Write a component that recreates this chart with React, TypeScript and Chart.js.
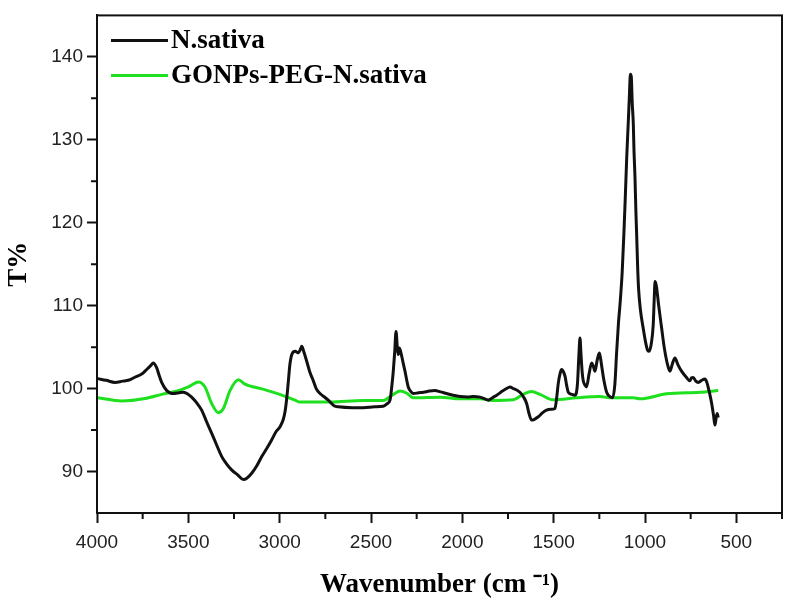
import React, { useEffect, useRef } from 'react';
import { Chart, registerables } from 'chart.js';

Chart.register(...registerables);

const seriesLabels = ['N.sativa', 'GONPs-PEG-N.sativa'];
const seriesColors = ['#111111', '#1ee01e'];

const nsWave = [
  3996, 3950, 3901, 3860, 3829, 3790, 3755, 3728, 3705, 3692, 3673, 3660, 3646, 3618, 3582, 3550, 3528, 3500,
  3482, 3455, 3427, 3400, 3372, 3345, 3317, 3290, 3263, 3230, 3199, 3180, 3153, 3125, 3098, 3070, 3044, 3020,
  2998, 2980, 2970, 2961, 2952, 2944, 2932, 2915, 2898, 2885, 2879, 2870, 2852, 2835, 2816, 2800, 2779, 2750,
  2734, 2700, 2679, 2600, 2542, 2480, 2433, 2410, 2396, 2385, 2378, 2370, 2363, 2356, 2351, 2345, 2338, 2325,
  2314, 2296, 2280, 2268, 2240, 2213, 2180, 2150, 2120, 2086, 2050, 2013, 1970, 1940, 1903, 1880, 1858, 1835,
  1812, 1780, 1750, 1739, 1720, 1700, 1685, 1665, 1648, 1635, 1621, 1605, 1584, 1560, 1539, 1515, 1493, 1483,
  1475, 1465, 1457, 1448, 1438, 1428, 1420, 1400, 1384, 1370, 1362, 1356, 1350, 1344, 1338, 1328, 1320, 1306,
  1292, 1283, 1274, 1262, 1250, 1243, 1237, 1225, 1210, 1190, 1177, 1165, 1155, 1145, 1137, 1125, 1115, 1108,
  1100, 1092, 1086, 1080, 1075, 1070, 1064, 1060, 1055, 1050, 1046, 1040, 1035, 1025, 1010, 995, 985, 977,
  965, 955, 950, 945, 940, 936, 925, 909, 895, 881, 870, 863, 850, 836, 820, 800, 775, 754, 745, 736, 722,
  708, 690, 672, 662, 654, 645, 635, 625, 617, 611, 605, 599,
];
const nsT = [
  101.2, 101.0, 100.75, 100.9, 101.0, 101.4, 101.75, 102.3, 102.8, 103.1, 102.5, 101.6, 100.75, 99.76, 99.4, 99.5, 99.56, 99.3,
  98.97, 98.3, 97.4, 96.0, 94.6, 93.2, 91.8, 90.9, 90.2, 89.6, 89.05, 89.2, 89.8, 90.7, 91.8, 92.8, 93.8, 94.8,
  95.4, 96.3, 97.3, 98.9, 101.0, 102.9, 104.2, 104.5, 104.3, 104.8, 105.1, 104.6, 103.3, 102.0, 100.95, 100.0, 99.4, 98.9,
  98.6, 97.9, 97.8, 97.7, 97.7, 97.8, 97.86, 98.2, 98.6, 100.5, 102.1, 104.5, 106.9, 105.0, 104.1, 104.9, 104.5, 103.2,
  102.1, 100.2, 99.6, 99.4, 99.5, 99.56, 99.7, 99.76, 99.6, 99.4, 99.2, 99.05, 99.0, 99.05, 98.97, 98.8, 98.6, 98.9,
  99.2, 99.7, 100.1, 100.2, 100.0, 99.8, 99.56, 99.0, 98.2, 97.0, 96.2, 96.3, 96.6, 97.1, 97.4, 97.5, 97.6, 99.0,
  100.6, 101.8, 102.3, 102.1, 101.5, 100.3, 99.56, 99.3, 99.2, 100.5, 104.0, 106.1, 104.0, 102.0, 100.95, 100.4, 100.2, 101.8,
  103.1, 102.7, 102.1, 103.4, 104.3, 103.6, 102.7, 101.0, 99.56, 99.0, 98.9, 100.5, 104.5, 108.0, 110.1, 114.0, 119.0, 123.0,
  127.9, 131.9, 135.0, 137.9, 137.6, 134.5, 131.9, 128.5, 125.6, 121.5, 118.8, 114.5, 112.0, 109.5, 107.3, 105.4, 104.6, 104.5,
  105.5, 107.7, 110.5, 112.9, 112.6, 112.1, 110.0, 107.3, 105.0, 103.3, 102.4, 102.1, 103.0, 103.7, 102.9, 102.1, 101.4, 100.95, 101.3, 101.35, 100.9,
  100.75, 101.0, 101.15, 100.8, 100.15, 99.3, 98.2, 96.8, 95.6, 96.4, 97.0, 96.5,
];

const gnWave = [
  3996, 3865, 3737, 3646, 3555, 3500, 3445, 3409, 3372, 3336, 3308, 3272, 3226, 3190, 3098, 3008, 2916, 2889,
  2725, 2542, 2433, 2378, 2341, 2304, 2268, 2122, 2013, 1903, 1831, 1721, 1667, 1621, 1575, 1502, 1374, 1247,
  1192, 1064, 1028, 881, 700, 599,
];
const gnT = [
  98.9, 98.5, 98.8, 99.3, 99.76, 100.2, 100.8, 100.2, 98.2, 97.1, 97.6, 99.76, 101.07, 100.55, 99.96, 99.37, 98.6, 98.37,
  98.37, 98.57, 98.57, 99.3, 99.7, 99.44, 98.9, 98.97, 98.77, 98.77, 98.57, 98.65, 99.3, 99.64, 99.3, 98.65, 98.9, 99.05,
  98.9, 98.9, 98.77, 99.37, 99.56, 99.76,
];

const xTicks = [4000, 3500, 3000, 2500, 2000, 1500, 1000, 500];
const xMinorTicks = [3750, 3250, 2750, 2250, 1750, 1250, 750, 250];
const yTicks = [90, 100, 110, 120, 130, 140];
const yMinorTicks = [95, 105, 115, 125, 135];
const xTitle = 'Wavenumber (cm \u207B\u00B9)';
const yTitle = 'T%';

const frameColor = '#111111';
const serifBold = { family: '"Liberation Serif", "Times New Roman", serif', size: 27, weight: 'bold' as const };
const tickFont = { family: '"Liberation Sans", Arial, sans-serif', size: 19 };

const framePlugin = {
  id: 'frameAndMinor',
  afterDraw(chart: any) {
    const { ctx, chartArea, scales } = chart;
    ctx.save();
    ctx.strokeStyle = frameColor;
    ctx.lineWidth = 2;
    ctx.strokeRect(chartArea.left, chartArea.top, chartArea.right - chartArea.left, chartArea.bottom - chartArea.top);
    ctx.beginPath();
    xMinorTicks.forEach((v) => {
      const px = scales.x.getPixelForValue(v);
      ctx.moveTo(px, chartArea.bottom);
      ctx.lineTo(px, chartArea.bottom + 6);
    });
    yMinorTicks.forEach((v) => {
      const py = scales.y.getPixelForValue(v);
      ctx.moveTo(chartArea.left, py);
      ctx.lineTo(chartArea.left - 6, py);
    });
    ctx.stroke();
    ctx.restore();
  },
};

const legendPlugin = {
  id: 'insideLegend',
  afterDatasetsDraw(chart: any) {
    const { ctx, chartArea } = chart;
    ctx.save();
    chart.data.datasets.forEach((ds: any, i: number) => {
      const y = chartArea.top + 25 + i * 35;
      ctx.strokeStyle = ds.borderColor;
      ctx.lineWidth = 3;
      ctx.beginPath();
      ctx.moveTo(chartArea.left + 14, y);
      ctx.lineTo(chartArea.left + 71, y);
      ctx.stroke();
      ctx.fillStyle = '#000';
      ctx.font = `bold ${serifBold.size}px ${serifBold.family}`;
      ctx.textBaseline = 'middle';
      ctx.textAlign = 'left';
      ctx.fillText(ds.label, chartArea.left + 74, y + 1);
    });
    ctx.restore();
  },
};

export default function App() {
  const canvasRef = useRef<HTMLCanvasElement | null>(null);

  useEffect(() => {
    if (!canvasRef.current) return;
    const chart = new Chart(canvasRef.current, {
      type: 'line',
      data: {
        datasets: [
          {
            label: seriesLabels[0],
            data: nsWave.map((w, i) => ({ x: w, y: nsT[i] })),
            borderColor: seriesColors[0],
            backgroundColor: seriesColors[0],
            borderWidth: 3,
            pointRadius: 0,
            cubicInterpolationMode: 'monotone',
          },
          {
            label: seriesLabels[1],
            data: gnWave.map((w, i) => ({ x: w, y: gnT[i] })),
            borderColor: seriesColors[1],
            backgroundColor: seriesColors[1],
            borderWidth: 3,
            pointRadius: 0,
            cubicInterpolationMode: 'monotone',
          },
        ],
      },
      options: {
        animation: false,
        responsive: true,
        maintainAspectRatio: false,
        layout: { padding: { top: 12, right: 8, left: 0, bottom: 0 } },
        plugins: { legend: { display: false }, tooltip: { enabled: false } },
        scales: {
          x: {
            type: 'linear',
            reverse: true,
            min: 250,
            max: 4000,
            afterBuildTicks: (scale: any) => {
              scale.ticks = xTicks.map((v) => ({ value: v }));
            },
            afterFit: (scale: any) => {
              scale.height = 95;
            },
            grid: { drawOnChartArea: false, drawTicks: true, tickLength: 10, tickWidth: 2, tickColor: frameColor },
            border: { display: true, color: frameColor, width: 2 },
            ticks: {
              font: tickFont,
              color: '#222',
              padding: 8,
              maxRotation: 0,
              autoSkip: false,
              callback: (v: any) => String(v),
            },
            title: { display: true, text: xTitle, font: serifBold, color: '#000', padding: { top: 0, bottom: 7 } },
          },
          y: {
            type: 'linear',
            min: 85,
            max: 145,
            afterBuildTicks: (scale: any) => {
              scale.ticks = yTicks.map((v) => ({ value: v }));
            },
            afterFit: (scale: any) => {
              scale.width = 97;
            },
            grid: { drawOnChartArea: false, drawTicks: true, tickLength: 10, tickWidth: 2, tickColor: frameColor },
            border: { display: true, color: frameColor, width: 2 },
            ticks: { font: tickFont, color: '#222', padding: 4, autoSkip: false, callback: (v: any) => String(v) },
            title: { display: true, text: yTitle, font: serifBold, color: '#000', padding: { top: 3, bottom: 0 } },
          },
        },
      },
      plugins: [framePlugin, legendPlugin],
    } as any);
    return () => chart.destroy();
  }, []);

  return (
    <div style={{ position: 'absolute', left: 0, top: 0, width: 790, height: 608, background: '#fff' }}>
      <canvas ref={canvasRef} />
    </div>
  );
}
